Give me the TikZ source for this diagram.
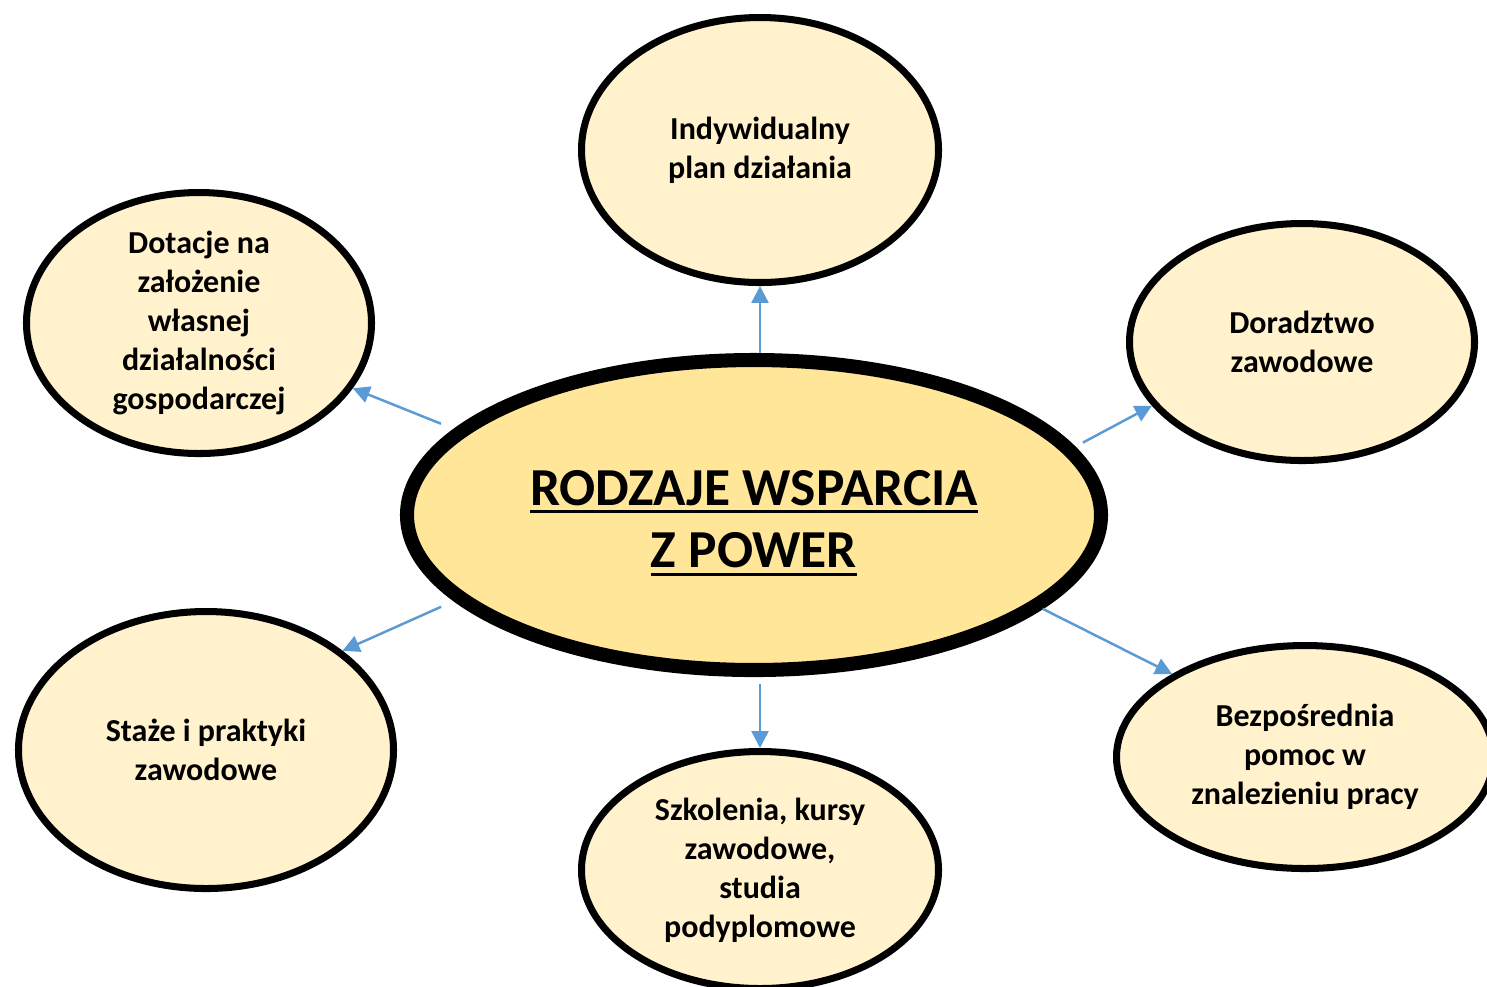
\documentclass[tikz,border=0pt]{standalone}
\usepackage{fontspec}
\setmainfont{Carlito}
\usetikzlibrary{shapes.geometric,arrows.meta}
\definecolor{bubblefill}{HTML}{FFF2CC}
\definecolor{hubfill}{HTML}{FFE699}
\definecolor{linkblue}{HTML}{5B9BD5}
\newcommand\ulbar[1]{\setbox0\hbox{#1}\rlap{\rule[-2.4pt]{\wd0}{0.9pt}}\box0}
\tikzset{
  bubble/.style={ellipse, draw, line width=2pt, fill=bubblefill, align=center,
    inner sep=0pt, font=\bfseries\fontsize{9.1}{11.1}\selectfont},
  hub/.style={ellipse, draw, line width=4pt, fill=hubfill, align=center,
    inner sep=0pt, minimum width=6.94cm, minimum height=3.10cm,
    font=\bfseries\fontsize{15.2}{17.8}\selectfont},
  link/.style={draw=linkblue, line width=0.7pt, -{Triangle[length=4.8pt,width=4.8pt]}}
}
\begin{document}
\begin{tikzpicture}
				\clip (0,0) rectangle (14.87,-9.86);
				\fill[white] (0,0) rectangle (14.87,-9.86);
				\node[hub] (main) at (7.54,-5.15) {\rule{0pt}{14.5pt}\ulbar{RODZAJE WSPARCIA}\\\ulbar{Z POWER}};
				\node[bubble, minimum width=3.57cm, minimum height=2.65cm] (plan) at (7.60,-1.50) {Indywidualny\\plan działania};
				\node[bubble, minimum width=3.45cm, minimum height=2.61cm] (dotac) at (1.99,-3.23) {Dotacje na\\założenie\\własnej\\działalności\\gospodarczej};
				\node[bubble, minimum width=3.45cm, minimum height=2.37cm] (dorad) at (13.02,-3.42) {Doradztwo\\zawodowe};
				\node[bubble, minimum width=3.75cm, minimum height=2.77cm] (staz) at (2.06,-7.50) {Staże i praktyki\\zawodowe};
				\node[bubble, minimum width=3.57cm, minimum height=2.37cm] (szkol) at (7.60,-8.70) {Szkolenia, kursy\\zawodowe,\\studia\\podyplomowe};
				\node[bubble, minimum width=3.77cm, minimum height=2.23cm] (pomoc) at (13.05,-7.57) {Bezpośrednia\\pomoc w\\znalezieniu pracy};
				
				\draw[link] (plan.south |- main.north) -- (plan.south);
				\draw[link] ([yshift=-2pt]szkol.north |- main.south) -- (szkol.north);
				\draw[link, shorten <=4pt] (main.164) -- (dotac.-23);
				\draw[link, shorten <=2.5pt] (main.12) -- (dorad.203);
				\draw[link, shorten <=4pt] (main.196) -- (staz.36);
				\draw[link] (main.-18) -- (pomoc.148);
			\end{tikzpicture}
\end{document}
